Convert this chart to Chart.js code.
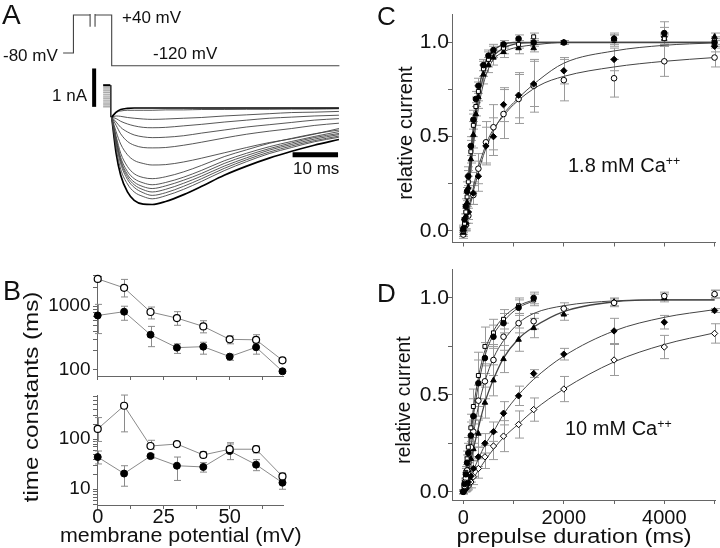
<!DOCTYPE html>
<html><head><meta charset="utf-8">
<script src="https://cdn.jsdelivr.net/npm/chart.js@4.4.1/dist/chart.umd.min.js"></script>
<style>
body{margin:0;background:#fff;}
#fig{position:relative;width:720px;height:548px;overflow:hidden;background:#fff;font-family:"Liberation Sans",Arial,Helvetica,sans-serif;color:#111;}
canvas{position:absolute;}
.t{position:absolute;line-height:1;white-space:nowrap;}
sup{font-size:62%;vertical-align:0.6em;line-height:0;}
</style></head><body><div id="fig">
<canvas id="cA" width="360" height="230" style="left:0;top:0"></canvas>
<canvas id="cB1" width="248" height="125" style="left:40px;top:263px"></canvas>
<canvas id="cB2" width="248" height="152" style="left:40px;top:383px"></canvas>
<canvas id="cC" width="325" height="247" style="left:395px;top:5px"></canvas>
<canvas id="cD" width="325" height="270" style="left:395px;top:260px"></canvas>
<div class="t" style="left:2px;top:1px;font-size:28px">A</div>
<div class="t" style="left:3px;top:278px;font-size:27px">B</div>
<div class="t" style="left:377px;top:3px;font-size:26px">C</div>
<div class="t" style="left:377px;top:280px;font-size:26px">D</div>
<div class="t" style="left:3px;top:47px;font-size:17px">-80 mV</div>
<div class="t" style="left:122px;top:9px;font-size:17px">+40 mV</div>
<div class="t" style="left:153px;top:45px;font-size:17px">-120 mV</div>
<div class="t" style="left:52px;top:87px;font-size:17px">1 nA</div>
<div class="t" style="left:293px;top:160px;font-size:17px">10 ms</div>
<div class="t" style="left:568px;top:155px;font-size:20px">1.8 mM Ca<sup>++</sup></div>
<div class="t" style="left:565px;top:418px;font-size:20px">10 mM Ca<sup>++</sup></div>
</div>
<script>
// ---------------- Panel A data ----------------
const protT = [-10.8, -8.5, -8.5, -4.8, null, -3.7, 0, 0, 50.6];
const protV = [-80, -80, 40, 40, null, 40, 40, -120, -120];
const breakT = [-4.8, -3.7];
const breakV = [43, 3];
const tailT = [-1.9, -0.3];
const tailLevels = [0.60, 0.55, 0.50, 0.45, 0.40, 0.345, 0.29, 0.24, 0.185, 0.13, 0.08, 0.03];
const startT = -0.2;
const startV = [0.6, -0.24];
const nABarT = -3.9;
const nABarV = [0.03, 1.04];
const msBarT = [40.2, 50.3];
const msBarV = -1.23;
const traceT = [0, 1, 2, 3.5, 5, 7, 9, 12, 16, 20, 25, 30, 35, 40, 45, 50.5];
const trace1 = [-0.24,-0.11,-0.04,-0.01,0,0,0,0,0,0,0,0,0,0,0,0];
const trace2 = [-0.24,-0.12,-0.08,-0.06,-0.06,-0.06,-0.06,-0.05,-0.05,-0.04,-0.04,-0.035,-0.035,-0.03,-0.03,-0.02];
const trace3 = [-0.24,-0.21,-0.22,-0.25,-0.27,-0.29,-0.30,-0.29,-0.27,-0.25,-0.21,-0.18,-0.15,-0.12,-0.11,-0.09];
const trace4 = [-0.24,-0.28,-0.35,-0.42,-0.47,-0.51,-0.52,-0.51,-0.47,-0.43,-0.37,-0.32,-0.27,-0.24,-0.21,-0.19];
const trace5 = [-0.24,-0.37,-0.51,-0.63,-0.71,-0.76,-0.78,-0.77,-0.73,-0.66,-0.58,-0.50,-0.44,-0.38,-0.32,-0.28];
const trace6 = [-0.24,-0.46,-0.68,-0.88,-0.98,-1.04,-1.05,-1.04,-0.98,-0.90,-0.79,-0.69,-0.61,-0.54,-0.46,-0.40];
const trace7 = [-0.24,-0.63,-0.95,-1.23,-1.38,-1.46,-1.50,-1.49,-1.42,-1.32,-1.18,-1.04,-0.91,-0.81,-0.69,-0.54];
const trace8 = [-0.24,-0.75,-1.19,-1.54,-1.73,-1.83,-1.86,-1.81,-1.68,-1.51,-1.28,-1.10,-0.93,-0.80,-0.68,-0.58];
const trace9 = [-0.24,-0.81,-1.30,-1.67,-1.86,-1.97,-2.02,-1.96,-1.82,-1.64,-1.39,-1.19,-1.02,-0.88,-0.75,-0.62];
const trace10 = [-0.24,-0.85,-1.36,-1.75,-1.95,-2.07,-2.12,-2.05,-1.90,-1.72,-1.46,-1.25,-1.07,-0.92,-0.78,-0.67];
const trace11 = [-0.24,-0.89,-1.40,-1.81,-2.02,-2.15,-2.21,-2.14,-1.98,-1.79,-1.53,-1.31,-1.11,-0.96,-0.82,-0.70];
const trace12 = [-0.24,-0.96,-1.47,-1.88,-2.09,-2.23,-2.30,-2.23,-2.06,-1.86,-1.59,-1.36,-1.16,-1.00,-0.86,-0.74];
const trace13 = [-0.24,-1.07,-1.61,-2.00,-2.21,-2.33,-2.39,-2.31,-2.14,-1.93,-1.65,-1.41,-1.20,-1.04,-0.89,-0.77];
const trace14 = [-0.24,-1.20,-1.77,-2.21,-2.43,-2.53,-2.54,-2.46,-2.28,-2.06,-1.77,-1.53,-1.32,-1.14,-0.98,-0.83];

// ---------------- Panel B data ----------------
const bMv = [0, 10, 20, 30, 40, 50, 60, 70];
const bXTicks = [0, 12.5, 25, 37.5, 50, 62.5];
const bTopOpen = [2700, 1950, 810, 650, 480, 300, 295, 140];
const bTopOpenLo = [2500, 1400, 630, 500, 380, 255, 260, 130];
const bTopOpenHi = [2950, 2650, 970, 820, 590, 340, 355, 150];
const bTopFilled = [715, 820, 355, 222, 230, 160, 225, 94];
const bTopFilledLo = [370, 600, 230, 180, 175, 140, 175, 88];
const bTopFilledHi = [1070, 1000, 480, 255, 270, 175, 270, 100];
const bBotOpen = [160, 465, 73, 80, 48.5, 63, 63, 18];
const bBotOpenLo = [90, 140, 63, 75, 43, 55, 53, 16];
const bBotOpenHi = [270, 760, 95, 86, 56, 85, 73, 21];
const bBotFilled = [44, 20.6, 46, 29.5, 27.9, 58, 31, 13.5];
const bBotFilledLo = [32, 11.5, 42, 15, 22, 39, 23.5, 10];
const bBotFilledHi = [58, 29.5, 50, 44, 34, 80, 39, 15.6];
const bTopYTicks = [100,200,300,400,500,600,700,800,900,1000,2000,3000];
const bTopYLabels = [100, 1000];
const bBotYTicks = [5,6,7,8,9,10,20,30,40,50,60,70,80,90,100,200,300,400,500,600,700];
const bBotYLabels = [10, 100];

// ---------------- Panel C data (1.8 mM Ca) ----------------
const cdXTicks = [0, 1000, 2000, 3000, 4000, 5000];
const cdXLabels = [0, 2000, 4000];
const cdYTicks = [0, 0.25, 0.5, 0.75, 1.0];
const cFastX = [0, 25, 50, 75, 100, 150, 200, 250, 300, 400, 500, 600, 800, 1100, 1400, 2000, 3000, 4000, 5000];
const cFastCircle = [0.01, 0.06, 0.13, 0.21, 0.29, 0.45, 0.59, 0.70, 0.77, 0.88, 0.93, 0.96, 0.99, 1.02, 1.00, 1.00, 1.02, 1.05, 1.00];
const cFastCircleErr = [0.02, 0.03, 0.04, 0.05, 0.05, 0.05, 0.05, 0.04, 0.04, 0.03, 0.03, 0.03, 0.02, 0.02, 0.02, 0.01, 0.03, 0.06, 0.02];
const cFastSquare = [0.00, 0.04, 0.10, 0.18, 0.26, 0.42, 0.56, 0.66, 0.74, 0.86, 0.91, 0.95, 0.97, 0.99, 1.03, 1.00, 1.01, 1.02, 1.01];
const cFastSquareErr = [0.02, 0.03, 0.04, 0.05, 0.06, 0.06, 0.06, 0.05, 0.05, 0.04, 0.04, 0.03, 0.03, 0.02, 0.02, 0.01, 0.03, 0.03, 0.02];
const cFastTriangle = [-0.01, 0.03, 0.08, 0.15, 0.23, 0.38, 0.51, 0.62, 0.71, 0.83, 0.88, 0.92, 0.95, 0.97, 0.97, 1.00, 1.02, 1.02, 1.03];
const cFastTriangleErr = [0.02, 0.03, 0.04, 0.05, 0.06, 0.07, 0.07, 0.06, 0.06, 0.05, 0.04, 0.04, 0.03, 0.03, 0.02, 0.01, 0.02, 0.02, 0.02];
const cSlowX = [0, 50, 100, 200, 300, 450, 600, 800, 1100, 1400, 2000, 3000, 4000, 5000];
const cSlowFilled = [0.00, 0.04, 0.10, 0.20, 0.29, 0.45, 0.50, 0.67, 0.72, 0.78, 0.85, 0.91, 1.03, 0.98];
const cSlowFilledErr = [0.02, 0.03, 0.04, 0.06, 0.08, 0.10, 0.10, 0.09, 0.12, 0.12, 0.07, 0.06, 0.05, 0.03];
const cSlowOpen = [-0.02, 0.03, 0.08, 0.19, 0.33, 0.47, 0.55, 0.62, 0.70, 0.77, 0.80, 0.81, 0.90, 0.92];
const cSlowOpenErr = [0.02, 0.03, 0.04, 0.05, 0.08, 0.11, 0.12, 0.13, 0.13, 0.14, 0.11, 0.10, 0.08, 0.05];
const cFitX = [0, 50, 100, 150, 200, 250, 300, 400, 500, 600, 800, 1000, 1500, 2000, 3000, 4000, 5000];
const cFitFast1 = [0, 0.12, 0.27, 0.42, 0.55, 0.66, 0.74, 0.86, 0.93, 0.96, 0.99, 1.0, 1.0, 1.0, 1.0, 1.0, 1.0];
const cFitFast2 = [0, 0.10, 0.23, 0.37, 0.50, 0.61, 0.70, 0.82, 0.89, 0.93, 0.97, 0.99, 1.0, 1.0, 1.0, 1.0, 1.0];
const cFitFast3 = [0, 0.08, 0.20, 0.33, 0.45, 0.56, 0.65, 0.78, 0.86, 0.91, 0.95, 0.97, 0.99, 1.0, 1.0, 1.0, 1.0];
const cFitSlow1 = [0, 0.04, 0.10, 0.15, 0.21, 0.26, 0.31, 0.40, 0.47, 0.53, 0.62, 0.68, 0.80, 0.89, 0.955, 0.985, 0.998];
const cFitSlow2 = [0, 0.04, 0.11, 0.17, 0.23, 0.29, 0.34, 0.42, 0.49, 0.54, 0.61, 0.67, 0.77, 0.82, 0.87, 0.90, 0.92];

// ---------------- Panel D data (10 mM Ca) ----------------
const dFastX = [0, 25, 50, 75, 100, 150, 200, 300, 430, 600, 800, 1100, 1400];
const dFastCircle = [0, 0.04, 0.09, 0.15, 0.20, 0.29, 0.39, 0.56, 0.69, 0.80, 0.87, 0.95, 1.00];
const dFastCircleErr = [0.01, 0.02, 0.03, 0.04, 0.05, 0.07, 0.09, 0.12, 0.08, 0.06, 0.05, 0.04, 0.03];
const dFastSquare = [0, 0.05, 0.10, 0.17, 0.23, 0.33, 0.44, 0.60, 0.75, 0.82, 0.89, 0.96, 0.99];
const dFastSquareErr = [0.01, 0.02, 0.03, 0.04, 0.05, 0.07, 0.09, 0.12, 0.10, 0.07, 0.05, 0.04, 0.03];
const dX = [0, 25, 50, 75, 100, 150, 200, 300, 430, 600, 800, 1100, 1400, 2000, 3000, 4000, 5000];
const dOpenCircle = [0, 0.03, 0.07, 0.11, 0.15, 0.23, 0.31, 0.47, 0.57, 0.68, 0.80, 0.87, 0.88, 0.945, 0.975, 1.01, 1.02];
const dOpenCircleErr = [0.01, 0.02, 0.03, 0.03, 0.04, 0.05, 0.06, 0.08, 0.09, 0.08, 0.07, 0.05, 0.04, 0.03, 0.02, 0.02, 0.02];
const dTriangle = [0, 0.02, 0.05, 0.08, 0.11, 0.17, 0.22, 0.30, 0.46, 0.575, 0.685, 0.785, 0.845, 0.915, 0.98, 1.00, 1.02];
const dTriangleErr = [0.01, 0.02, 0.02, 0.03, 0.04, 0.05, 0.06, 0.07, 0.08, 0.08, 0.07, 0.06, 0.05, 0.03, 0.02, 0.02, 0.02];
const dFilledDiamond = [0, 0.01, 0.02, 0.035, 0.05, 0.08, 0.12, 0.18, 0.25, 0.31, 0.405, 0.495, 0.61, 0.71, 0.83, 0.875, 0.935];
const dFilledDiamondErr = [0.01, 0.01, 0.02, 0.02, 0.03, 0.03, 0.04, 0.05, 0.05, 0.05, 0.06, 0.05, 0.02, 0.03, 0.065, 0.035, 0.01];
const dOpenDiamond = [0, 0.01, 0.015, 0.025, 0.03, 0.05, 0.077, 0.12, 0.18, 0.236, 0.287, 0.347, 0.424, 0.53, 0.68, 0.747, 0.817];
const dOpenDiamondErr = [0.01, 0.01, 0.01, 0.02, 0.02, 0.03, 0.04, 0.05, 0.06, 0.07, 0.08, 0.07, 0.06, 0.065, 0.08, 0.06, 0.05];
const dFitFastX = [0, 50, 100, 150, 200, 300, 430, 600, 800, 1100, 1400];
const dFitFast1 = [0, 0.10, 0.20, 0.30, 0.39, 0.55, 0.70, 0.81, 0.88, 0.95, 0.985];
const dFitFast2 = [0, 0.11, 0.22, 0.33, 0.43, 0.59, 0.73, 0.83, 0.90, 0.96, 0.99];
const dFitX = [0, 50, 100, 150, 200, 300, 430, 600, 800, 1100, 1400, 2000, 3000, 4000, 5000];
const dFitOpenCircle = [0, 0.07, 0.15, 0.23, 0.30, 0.44, 0.57, 0.69, 0.78, 0.87, 0.92, 0.96, 0.985, 0.99, 0.99];
const dFitTriangle = [0, 0.05, 0.10, 0.16, 0.22, 0.33, 0.46, 0.58, 0.69, 0.79, 0.85, 0.93, 0.98, 0.99, 0.99];
const dFitFilledDiamond = [0, 0.02, 0.05, 0.08, 0.11, 0.17, 0.24, 0.31, 0.40, 0.50, 0.58, 0.70, 0.83, 0.90, 0.94];
const dFitOpenDiamond = [0, 0.015, 0.03, 0.05, 0.07, 0.11, 0.16, 0.22, 0.28, 0.35, 0.42, 0.53, 0.67, 0.76, 0.82];

// ---------------- helpers ----------------
const FONT = '"Liberation Sans", Arial, Helvetica, sans-serif';
Chart.defaults.font.family = FONT;
Chart.defaults.color = '#111';
const fig = document.getElementById('fig');
const pts = (xs, ys) => xs.map((x, i) => ({x: x, y: ys[i]}));

const errorBars = {
  id: 'errorBars',
  beforeDatasetsDraw(chart) {
    const ctx = chart.ctx;
    chart.data.datasets.forEach((ds, i) => {
      if (!ds.err && !ds.errLo) return;
      const meta = chart.getDatasetMeta(i);
      const xs = chart.scales[meta.xAxisID], ys = chart.scales[meta.yAxisID];
      ctx.save();
      ctx.strokeStyle = ds.errColor || '#999';
      ctx.lineWidth = 1;
      ds.data.forEach((p, j) => {
        let lo, hi;
        if (ds.err) { lo = p.y - ds.err[j]; hi = p.y + ds.err[j]; }
        else { lo = ds.errLo[j]; hi = ds.errHi[j]; }
        const x = Math.round(xs.getPixelForValue(p.x)) + 0.5;
        const y1 = ys.getPixelForValue(lo), y2 = ys.getPixelForValue(hi);
        const cw = ds.capW || 4;
        ctx.beginPath();
        ctx.moveTo(x, y1); ctx.lineTo(x, y2);
        ctx.moveTo(x - cw, y1); ctx.lineTo(x + cw, y1);
        ctx.moveTo(x - cw, y2); ctx.lineTo(x + cw, y2);
        ctx.stroke();
      });
      ctx.restore();
    });
  }
};

function baseOpts(scales, padding) {
  return {
    responsive: false, animation: false, devicePixelRatio: 1,
    layout: {padding: padding, autoPadding: false},
    plugins: {legend: {display: false}, tooltip: {enabled: false}},
    events: [],
    scales: scales
  };
}
function yAxis(type, min, max, ticksArr, labelFn, fontSize, pad) {
  return {
    type: type, position: 'left', min: min, max: max,
    afterBuildTicks: s => { s.ticks = ticksArr.map(v => ({value: v})); },
    afterFit: s => { s.width = 57; },
    ticks: {callback: labelFn, autoSkip: false, maxRotation: 0, padding: pad, color: '#111', font: {size: fontSize, lineHeight: 1}},
    grid: {display: true, drawOnChartArea: false, drawTicks: true, tickLength: 4, color: '#666', lineWidth: 1},
    border: {display: true, color: '#666', width: 1}
  };
}
function xAxis(min, max, ticksArr, labelFn, fontSize, pad, height) {
  return {
    type: 'linear', position: 'bottom', min: min, max: max,
    afterBuildTicks: s => { s.ticks = ticksArr.map(v => ({value: v})); },
    afterFit: s => { s.height = height; },
    ticks: {display: !!labelFn, callback: labelFn || (() => ''), autoSkip: false, maxRotation: 0, padding: pad, color: '#111', font: {size: fontSize, lineHeight: 1}},
    grid: {display: true, drawOnChartArea: false, drawTicks: true, tickLength: 4, color: '#666', lineWidth: 1},
    border: {display: true, color: '#666', width: 1}
  };
}

// ---------------- Panel A ----------------
(function () {
  const ds = [];
  const traces = [trace1, trace2, trace3, trace4, trace5, trace6, trace7, trace8, trace9, trace10, trace11, trace12, trace13, trace14];
  traces.forEach((tr, k) => {
    const outer = (k === 0 || k === traces.length - 1);
    ds.push({data: pts(traceT, tr), yAxisID: 'yI', showLine: true, pointRadius: 0,
      borderColor: outer ? '#000' : '#444', borderWidth: outer ? 1.7 : 0.9,
      cubicInterpolationMode: 'monotone'});
  });
  ds.push({data: pts(protT, protV), yAxisID: 'yV', showLine: true, pointRadius: 0, borderColor: '#444', borderWidth: 1.1, spanGaps: false});
  breakT.forEach(t => ds.push({data: [{x: t, y: breakV[0]}, {x: t, y: breakV[1]}], yAxisID: 'yV', showLine: true, pointRadius: 0, borderColor: '#444', borderWidth: 1.1}));
  tailLevels.forEach((v, k) => ds.push({data: [{x: tailT[0], y: v}, {x: tailT[1], y: v}], yAxisID: 'yI', showLine: true, pointRadius: 0, borderColor: k === 0 ? '#000' : '#666', borderWidth: k === 0 ? 2 : 0.8}));
  ds.push({data: [{x: startT, y: startV[0]}, {x: startT, y: startV[1]}], yAxisID: 'yI', showLine: true, pointRadius: 0, borderColor: '#333', borderWidth: 1});
  ds.push({data: [{x: nABarT, y: nABarV[0]}, {x: nABarT, y: nABarV[1]}], yAxisID: 'yI', showLine: true, pointRadius: 0, borderColor: '#000', borderWidth: 4, borderCapStyle: 'butt'});
  ds.push({data: [{x: msBarT[0], y: msBarV}, {x: msBarT[1], y: msBarV}], yAxisID: 'yI', showLine: true, pointRadius: 0, borderColor: '#000', borderWidth: 5, borderCapStyle: 'butt'});
  new Chart(document.getElementById('cA'), {
    type: 'scatter', data: {datasets: ds},
    options: baseOpts({
      x: {type: 'linear', display: false, min: -24.82, max: 55.18},
      yI: {type: 'linear', display: false, min: -3.211, max: 2.842},
      yV: {type: 'linear', display: false, min: -638.9, max: 87.4}
    }, 0)
  });
})();

// ---------------- Panel B ----------------
function bDatasets(openY, openLo, openHi, fillY, fillLo, fillHi) {
  return [
    {data: pts(bMv, openY), errLo: openLo, errHi: openHi, capW: 3.5, errColor: '#8a8a8a', showLine: true, borderColor: '#8a8a8a', borderWidth: 1,
      pointRadius: 3.5, pointBackgroundColor: '#fff', pointBorderColor: '#000', pointBorderWidth: 1.2, clip: false},
    {data: pts(bMv, fillY), errLo: fillLo, errHi: fillHi, capW: 3.5, errColor: '#8a8a8a', showLine: true, borderColor: '#8a8a8a', borderWidth: 1,
      pointRadius: 3.5, pointBackgroundColor: '#000', pointBorderColor: '#000', pointBorderWidth: 1, clip: false}
  ];
}
new Chart(document.getElementById('cB1'), {
  type: 'scatter',
  data: {datasets: bDatasets(bTopOpen, bTopOpenLo, bTopOpenHi, bTopFilled, bTopFilledLo, bTopFilledHi)},
  options: baseOpts({
    x: xAxis(-0.27, 70.2, bXTicks, null, 19, 0, 5),
    y: yAxis('logarithmic', 79.2, 3110, bTopYTicks, v => bTopYLabels.includes(v) ? String(v) : '', 19, 2.5)
  }, {top: 10, right: 5, left: 0, bottom: 0}),
  plugins: [errorBars]
});
new Chart(document.getElementById('cB2'), {
  type: 'scatter',
  data: {datasets: bDatasets(bBotOpen, bBotOpenLo, bBotOpenHi, bBotFilled, bBotFilledLo, bBotFilledHi)},
  options: baseOpts({
    x: xAxis(-0.27, 70.2, bXTicks, v => (v % 25 === 0 ? String(v) : ''), 20, -2, 30),
    y: yAxis('logarithmic', 4.85, 762, bBotYTicks, v => bBotYLabels.includes(v) ? String(v) : '', 19, 2.5)
  }, {top: 10, right: 5, left: 0, bottom: 0}),
  plugins: [errorBars]
});

// ---------------- Panels C & D ----------------
function marker(style, filled, r) {
  return {showLine: false, pointStyle: style, pointRadius: r || 2.8, pointBackgroundColor: filled ? '#000' : '#fff',
    pointBorderColor: '#000', pointBorderWidth: 1, clip: false, capW: 4.5, errColor: '#9a9a9a'};
}
function fit(xs, ys, w) {
  return {data: pts(xs, ys), showLine: true, pointRadius: 0, borderColor: '#444', borderWidth: w || 1, cubicInterpolationMode: 'monotone', clip: false};
}
const yLab = v => (Math.abs(v * 2 - Math.round(v * 2)) < 1e-6 ? v.toFixed(1) : '');

new Chart(document.getElementById('cC'), {
  type: 'scatter',
  data: {datasets: [
    Object.assign({data: pts(cFastX, cFastCircle), err: cFastCircleErr}, marker('circle', true)),
    Object.assign({data: pts(cFastX, cFastSquare), err: cFastSquareErr}, marker('rect', false, 2.8)),
    Object.assign({data: pts(cFastX, cFastTriangle), err: cFastTriangleErr}, marker('triangle', true, 3.2)),
    Object.assign({data: pts(cSlowX, cSlowFilled), err: cSlowFilledErr}, marker('rectRot', true, 3.2)),
    Object.assign({data: pts(cSlowX, cSlowOpen), err: cSlowOpenErr}, marker('circle', false, 2.8)),
    fit(cFitX, cFitFast1, 1.4), fit(cFitX, cFitFast2, 1.2), fit(cFitX, cFitFast3, 1),
    fit(cFitX, cFitSlow1, 1), fit(cFitX, cFitSlow2, 1)
  ]},
  options: baseOpts({
    x: xAxis(-225, 5009, cdXTicks, null, 20, 0, 5),
    y: yAxis('linear', -0.062, 1.1485, cdYTicks, yLab, 21, -1)
  }, {top: 8, right: 5, left: 0, bottom: 0}),
  plugins: [errorBars]
});

new Chart(document.getElementById('cD'), {
  type: 'scatter',
  data: {datasets: [
    Object.assign({data: pts(dFastX, dFastCircle), err: dFastCircleErr}, marker('circle', true)),
    Object.assign({data: pts(dFastX, dFastSquare), err: dFastSquareErr}, marker('rect', false, 2.8)),
    Object.assign({data: pts(dX, dOpenCircle), err: dOpenCircleErr}, marker('circle', false, 2.8)),
    Object.assign({data: pts(dX, dTriangle), err: dTriangleErr}, marker('triangle', true, 3.2)),
    Object.assign({data: pts(dX, dFilledDiamond), err: dFilledDiamondErr}, marker('rectRot', true, 3.2)),
    Object.assign({data: pts(dX, dOpenDiamond), err: dOpenDiamondErr}, marker('rectRot', false, 3.2)),
    fit(dFitFastX, dFitFast1), fit(dFitFastX, dFitFast2), fit(dFitX, dFitOpenCircle),
    fit(dFitX, dFitTriangle, 1.3), fit(dFitX, dFitFilledDiamond), fit(dFitX, dFitOpenDiamond)
  ]},
  options: baseOpts({
    x: xAxis(-225, 5009, cdXTicks, v => (cdXLabels.includes(v) ? String(v) : ''), 20, 4, 30),
    y: yAxis('linear', -0.0426, 1.147, cdYTicks, yLab, 21, -1)
  }, {top: 8, right: 5, left: 0, bottom: 0}),
  plugins: [errorBars]
});

// ---------------- axis titles (real text, stretched to match) ----------------
function addTitle(text, cx, cy, size, target, rotate) {
  const d = document.createElement('div');
  d.className = 't'; d.style.fontSize = size + 'px'; d.textContent = text;
  fig.appendChild(d);
  const w = d.offsetWidth, h = d.offsetHeight;
  d.style.left = (cx - w / 2) + 'px'; d.style.top = (cy - h / 2) + 'px';
  d.style.transform = (rotate ? 'rotate(-90deg) ' : '') + 'scaleX(' + (target / w).toFixed(3) + ')';
}
addTitle('membrane potential (mV)', 181, 535, 20, 242, false);
addTitle('prepulse duration (ms)', 574, 536, 20, 235, false);
addTitle('time constants (ms)', 31, 397, 20, 210, true);
addTitle('relative current', 405, 133, 20, 133, true);
addTitle('relative current', 403, 400, 20, 127, true);
</script>
</body></html>
